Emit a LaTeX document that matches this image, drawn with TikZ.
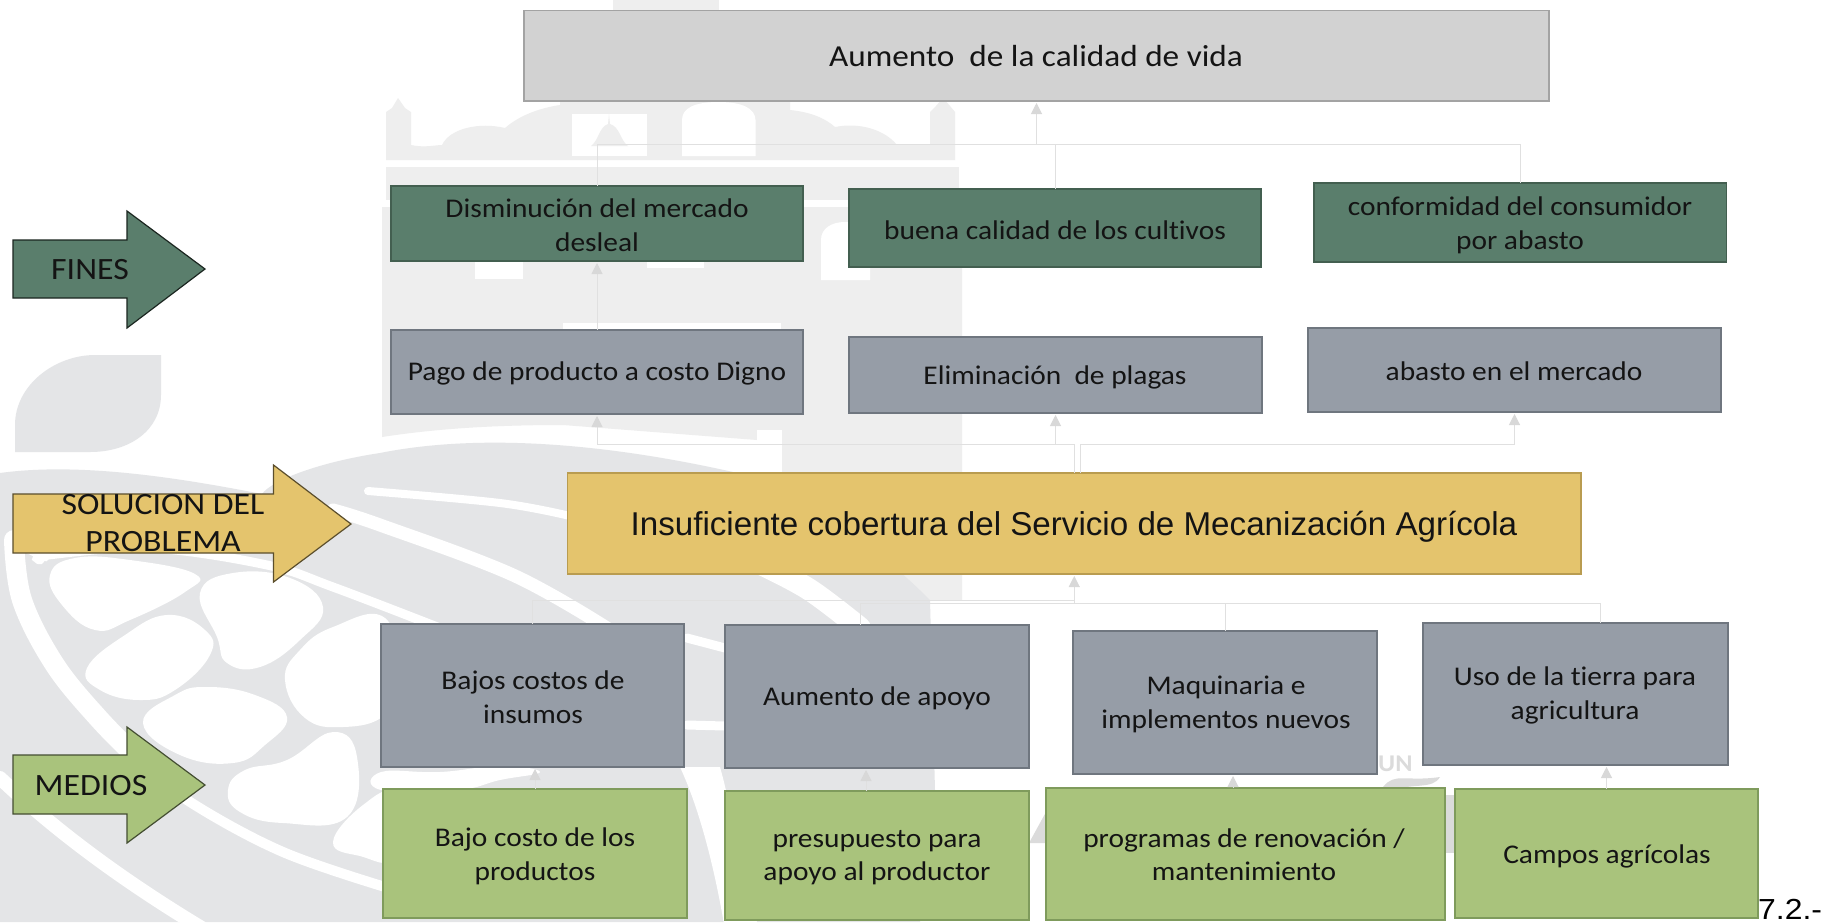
\documentclass[tikz,border=0pt]{standalone}
\usepackage{fontspec}
\setmainfont[FakeStretch=1.09,Ligatures=NoCommon]{Carlito}
\newfontfamily\arialf[FakeStretch=1.005]{Liberation Sans}
\newfontfamily\arialw[FakeStretch=1.1]{Liberation Sans}
\usetikzlibrary{arrows.meta,calc}
\definecolor{wmB}{HTML}{EEEEEE}
\definecolor{wmS}{HTML}{E4E5E7}
\definecolor{wmD}{HTML}{DBDBDB}
\definecolor{linkc}{HTML}{E0E0E0}
\definecolor{tipc}{HTML}{D8D8D8}
\definecolor{topF}{HTML}{D2D2D2}\definecolor{topD}{HTML}{A3A3A3}
\definecolor{finF}{HTML}{5A7E6C}\definecolor{finD}{HTML}{435F50}
\definecolor{grF}{HTML}{969DA7}\definecolor{grD}{HTML}{6F767F}
\definecolor{yeF}{HTML}{E4C46D}\definecolor{yeD}{HTML}{B99C50}
\definecolor{lgF}{HTML}{A9C37C}\definecolor{lgD}{HTML}{7F9B5C}
\tikzset{
 cell/.style={draw,line width=1.5pt,anchor=north west,inner sep=0pt,outer sep=0pt},
 topbox/.style={cell,fill=topF,draw=topD},
 finbox/.style={cell,fill=finF,draw=finD},
 graybox/.style={cell,fill=grF,draw=grD},
 yelbox/.style={cell,fill=yeF,draw=yeD},
 lgbox/.style={cell,fill=lgF,draw=lgD},
 txt/.style={align=center,inner sep=0pt,yshift=-0.3pt,font=\fontsize{27}{33.3}\selectfont,text=black!92},
 bigtxt/.style={txt,font=\fontsize{31}{37}\selectfont},
 bigarrow/.style={line width=1.2pt,line join=miter},
 link/.style={draw=linkc,line width=1pt},
 tip/.style={link,-{Triangle[length=11pt,width=11pt,color=tipc,fill=tipc]},shorten >=2pt},
 bldg/.style={fill=wmB,draw=none},
 seal/.style={fill=wmS,draw=none},
 hole/.style={fill=white,draw=none},
 stripe/.style={draw=white,line cap=round,fill=none},
}
\begin{document}
\begin{tikzpicture}[x=1pt,y=-1pt]
\useasboundingbox (0,0) rectangle (1831,922);
\fill[white] (0,0) rectangle (1831,922);
\begin{scope}
\clip (0,0) rectangle (1831,922);
% leaf
\fill[wmS] (15,452) -- (15,425) .. controls (15,385) and (55,355) .. (95,355) -- (161,355) -- (161,395) .. controls (161,430) and (130,452) .. (90,452) -- cycle;
% building
\fill[bldg] (613,0) rectangle (719,20);
\fill[bldg] (386,160) -- (386,112) -- (392,108) -- (398,98) -- (405,108) -- (411,112) -- (411,145)
  .. controls (425,148) and (435,145) .. (442,145) .. controls (450,128) and (480,122) .. (505,128)
  .. controls (520,115) and (540,108) .. (560,105) -- (560,95) -- (613,95) -- (613,20) -- (719,20) -- (719,95) -- (790,95) -- (790,110)
  .. controls (810,112) and (825,118) .. (835,127) .. controls (860,122) and (885,130) .. (897,145) -- (930,145) -- (930,112) -- (936,106) -- (943,98) -- (950,106) -- (955,112) -- (955,160) -- cycle;
\fill[bldg] (386,167) rectangle (959,200);
\fill[bldg] (382,207) -- (962,207) -- (962,600) -- (920,600) -- (782,480) -- (757,440) -- (563,425) .. controls (500,425) and (440,428) .. (382,437) -- cycle;
% windows
\fill[hole] (572,114) rectangle (647,156);
\fill[hole] (682,156) -- (682,120) .. controls (682,108) and (695,102) .. (718,102) .. controls (742,102) and (755,108) .. (755.5,120) -- (755.5,156) -- cycle;
\fill[bldg] (609,114) -- (610,124) .. controls (620,127) and (620,140) .. (628,146) -- (591,146) .. controls (599,140) and (599,127) .. (608,124) -- cycle;
\fill[hole] (475,262) rectangle (523,279);
\fill[hole] (647,262) rectangle (704,268);
\fill[hole] (821,280) -- (821,240) .. controls (821,228) and (832,222) .. (845,222) .. controls (860,222) and (870,228) .. (870,240) -- (870,280) -- cycle;
\fill[hole] (563,323) rectangle (781,340);
% seal
\fill[seal] (0,473) .. controls (80,462) and (180,478) .. (262,494) .. controls (272,480) and (320,462) .. (380,453)
  .. controls (470,435) and (590,440) .. (733,472) .. controls (800,495) and (870,540) .. (930,600) -- (935,790) -- (920,922) -- (0,922) -- cycle;
\fill[hole] (757,430) rectangle (782,480);
% seal stripes
\draw[stripe,line width=14pt] (0,778) .. controls (60,835) and (130,885) .. (205,930);
\draw[stripe,line width=20pt] plot[smooth,tension=.6] coordinates {(14,540) (22,600) (55,665) (100,720) (140,760)};
\draw[stripe,line width=10pt] plot[smooth,tension=.6] coordinates {(140,760) (187,800) (283,852) (395,890)};
\draw[stripe,line width=9pt] plot[smooth,tension=.6] coordinates {(40,560) (48,555) (150,548) (267,565) (333,587) (440,628)};
\draw[stripe,line width=9pt] (10,540) -- (45,557);
\draw[stripe,line width=13pt] plot[smooth,tension=.6] coordinates {(333,510) (380,525) (513,575) (607,628)};
\draw[stripe,line width=8pt] plot[smooth,tension=.6] coordinates {(368,491) (500,503) (570,516)};
\draw[stripe,line width=22pt] plot[smooth,tension=.6] coordinates {(763,565) (810,590) (860,628)};
\draw[stripe,line width=9pt] (687,638) -- (725,648);
\draw[stripe,line width=9pt] (687,725) -- (725,726);
% pebbles
\fill[hole] plot[smooth cycle,tension=.75] coordinates {(50,575) (75,558) (130,560) (195,574) (185,592) (130,620) (95,630) (62,605)};
\fill[hole] plot[smooth cycle,tension=.75] coordinates {(200,593) (233,573) (290,578) (323,607) (300,640) (260,667) (227,663) (217,637)};
\fill[hole] plot[smooth cycle,tension=.75] coordinates {(87,668) (125,635) (167,615) (205,630) (210,655) (175,690) (140,700) (100,690)};
\fill[hole] plot[smooth cycle,tension=.75] coordinates {(143,723) (175,695) (207,687) (255,695) (287,717) (265,745) (233,763) (180,755)};
\fill[hole] plot[smooth cycle,tension=.75] coordinates {(285,680) (300,650) (333,627) (385,618) (400,680) (385,715) (343,727) (305,718)};
\fill[hole] plot[smooth cycle,tension=.75] coordinates {(228,790) (245,770) (287,760) (333,732) (357,757) (347,817) (283,823) (240,812)};
\fill[hole] plot[smooth cycle,tension=.75] coordinates {(333,842) (363,805) (395,795) (395,857) (360,856)};
\fill[hole] plot[smooth cycle,tension=.75] coordinates {(381,772) (440,772) (500,766) (540,772) (500,780) (457,790) (381,790)};
% white channel to the right of the seal
\fill[hole] (680,767) -- (720,767) .. controls (735,820) and (740,880) .. (760,930) -- (725,930) .. controls (715,870) and (700,810) .. (680,767) -- cycle;
% logo fragments
\fill[wmD] (1383,787) .. controls (1395,772) and (1405,782) .. (1440,777) .. controls (1432,790) and (1415,782) .. (1383,792) -- cycle;
\fill[wmD] (1029,843) -- (1046,812) -- (1046,843) -- cycle;
\fill[wmD] (1445,795) rectangle (1455,853);
\node[font=\fontsize{24}{24}\selectfont\bfseries,text=wmD,anchor=base west,inner sep=0pt] (wmark) at (1378,771) {UN};
\end{scope}

% nodes
\node[topbox,minimum width=1025pt,minimum height=90.5pt] (top) at (524,10.5) {};
\node[finbox,minimum width=412pt,minimum height=75pt] (f1) at (391,186) {};
\node[finbox,minimum width=412pt,minimum height=78pt] (f2) at (849,189) {};
\node[finbox,minimum width=412.5pt,minimum height=79pt] (f3) at (1314,183) {};
\node[graybox,minimum width=412pt,minimum height=84pt] (p1) at (391,330) {};
\node[graybox,minimum width=413pt,minimum height=76pt] (p2) at (849,337) {};
\node[graybox,minimum width=413pt,minimum height=84pt] (p3) at (1308,328) {};
\node[yelbox,minimum width=1013.5pt,minimum height=101pt] (sol) at (567.5,473) {};
\node[graybox,minimum width=303pt,minimum height=143pt] (m1) at (381,624) {};
\node[graybox,minimum width=304pt,minimum height=143pt] (m2) at (725,625) {};
\node[graybox,minimum width=304pt,minimum height=143pt] (m3) at (1073,631) {};
\node[graybox,minimum width=305pt,minimum height=142pt] (m4) at (1423,623) {};
\node[lgbox,minimum width=304pt,minimum height=129pt] (b1) at (383,789) {};
\node[lgbox,minimum width=304pt,minimum height=129pt] (b2) at (725,791) {};
\node[lgbox,minimum width=399pt,minimum height=132pt] (b3) at (1046,788) {};
\node[lgbox,minimum width=303pt,minimum height=129pt] (b4) at (1455,789) {};

% connector anchors
\coordinate (busTop) at (top.south |- 0,144);
\coordinate (busSol) at (sol.north |- 0,444);
\coordinate (solR) at (1080,473);
\coordinate (busSolR) at (1080,444);
\coordinate (busA) at (sol.south |- 0,600);
\coordinate (busB) at (sol.south |- 0,603);
\coordinate (m2t) at (860,625);
\coordinate (m4t) at (1600,623);
\coordinate (b2t) at (866,791);
\coordinate (b3t) at (1233,788);
\coordinate (m3b) at (1233,774);
\coordinate (m2b) at (866,768);

% connectors
\draw[link] (f1.north) |- (busTop);
\draw[link] (f2.north) |- (busTop);
\draw[link] (f3.north) |- (busTop);
\draw[tip] (busTop) -- (top.south);
\draw[tip] (p1.north) -- (f1.south);
\draw[tip] (sol.north) -- (busSol) -| (p1.south);
\draw[tip] (busSol) -| (p2.south);
\draw[tip] (solR) -- (busSolR) -| (p3.south);
\draw[link] (m1.north) |- (busA);
\draw[link] (m2t) |- (busB);
\draw[link] (m3.north) |- (busB);
\draw[link] (m4t) |- (busB);
\draw[tip] (busB) -- (sol.south);
\draw[tip] (b1.north) -- (m1.south -| b1.north);
\draw[tip] (b2t) -- (m2b);
\draw[tip] (b3t) -- (m3b);
\draw[tip] (b4.north) -- (m4.south -| b4.north);

% side arrows
\draw[bigarrow,fill=finF,draw=black!70!finF] (13,240) -- (127,240) -- (127,211) -- (205,269) -- (127,328) -- (127,298) -- (13,298) -- cycle;
\draw[bigarrow,fill=yeF,draw=black!60!yeF] (13,494) -- (273.5,494) -- (273.5,465) -- (351,524) -- (273.5,582) -- (273.5,553) -- (13,553) -- cycle;
\draw[bigarrow,fill=lgF,draw=black!60!lgF] (13,755) -- (127,755) -- (127,727) -- (205,785) -- (127,843) -- (127,814) -- (13,814) -- cycle;

% labels
\node[bigtxt] (lFines) at (90,269) {FINES};
\node[bigtxt] (lSol) at (163,523) {SOLUCION DEL\\PROBLEMA};
\node[bigtxt] (lMed) at (91,785) {MEDIOS};

\node[txt,font=\fontsize{30.5}{37}\selectfont] (tTop) at (1036,56) {Aumento\ \ de la calidad de vida};
\node[txt] (tF1) at (597,225) {Disminución del mercado\\desleal};
\node[txt] (tF2) at (1055,230) {buena calidad de los cultivos};
\node[txt] (tF3) at (1520,225) {conformidad del consumidor\\por abasto};
\node[txt] (tP1) at (597,373) {Pago de producto a costo Digno};
\node[txt] (tP2) at (1055,377) {Eliminación\ \ de plagas};
\node[txt] (tP3) at (1514,371) {abasto en el mercado};
\node[txt,font=\arialf\fontsize{33}{40}\selectfont] (tSol) at (1074,526.5) {Insuficiente cobertura del Servicio de Mecanización Agrícola};
\node[txt] (tM1) at (533,697) {Bajos costos de\\insumos};
\node[txt] (tM2) at (877,698) {Aumento de apoyo};
\node[txt] (tM3) at (1226,704) {Maquinaria e\\implementos nuevos};
\node[txt] (tM4) at (1575,695) {Uso de la tierra para\\agricultura};
\node[txt] (tB1) at (535,856) {Bajo costo de los\\productos};
\node[txt] (tB2) at (877,857) {presupuesto para\\apoyo al productor};
\node[txt] (tB3) at (1244,854.5) {programas de renovación /\\mantenimiento};
\node[txt] (tB4) at (1607,856) {Campos agrícolas};
\node[anchor=base west,inner sep=0pt,font=\arialw\fontsize{29}{29}\selectfont,text=black] (tNum) at (1758,919) {7.2.-};
\end{tikzpicture}
\end{document}
